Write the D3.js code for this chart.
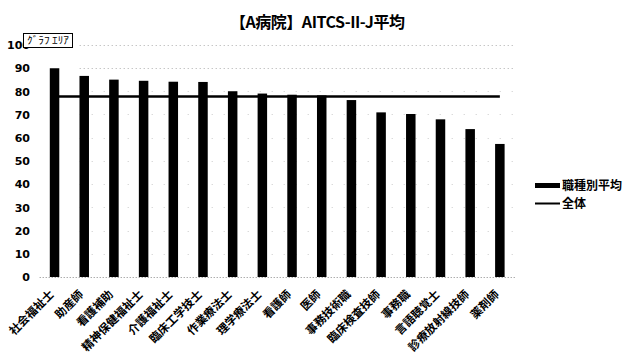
<!DOCTYPE html>
<html>
<head>
<meta charset="utf-8">
<script src="https://cdn.jsdelivr.net/npm/d3@7/dist/d3.min.js"></script>
<style>
  html, body { margin: 0; padding: 0; background: #fff; }
  svg { display: block; }
  text { font-family: "Noto Sans CJK JP", "Noto Sans", sans-serif; }
</style>
</head>
<body>
<div id="chart"></div>
<script>
// 職種別の AITCS-II-J 平均と全体平均
const categories = ["社会福祉士", "助産師", "看護補助", "精神保健福祉士", "介護福祉士", "臨床工学技士",
  "作業療法士", "理学療法士", "看護師", "医師", "事務技術職", "臨床検査技師", "事務職",
  "言語聴覚士", "診療放射線技師", "薬剤師"];
const jobAverages = [89.9, 86.6, 85.0, 84.5, 84.1, 84.0, 80.0, 79.0, 78.5, 78.2, 76.2, 70.9, 70.2, 67.9, 63.7, 57.3];
const overallAverage = 77.7;
const yTicks = [0, 10, 20, 30, 40, 50, 60, 70, 80, 90, 100];
const seriesNames = ["職種別平均", "全体"];
const chartTitle = "【A病院】AITCS-II-J平均";

const W = 623, H = 354;
const plot = { left: 39.7, right: 514.7, top: 44.8, bottom: 277 };

const svg = d3.select("#chart").append("svg")
  .attr("width", W).attr("height", H);

const x = d3.scaleBand()
  .domain(categories)
  .range([plot.left, plot.right])
  .paddingInner(0.68)
  .paddingOuter(0.34);

const y = d3.scaleLinear()
  .domain([0, 100])
  .range([plot.bottom, plot.top]);

// title
svg.append("text")
  .attr("x", 230).attr("y", 28)
  .attr("font-size", 16).attr("font-weight", "bold")
  .attr("textLength", 175).attr("lengthAdjust", "spacing")
  .text(chartTitle);

// sparse dotted gridlines
svg.append("g")
  .selectAll("line")
  .data(yTicks.filter(d => d > 0))
  .join("line")
  .attr("x1", plot.left + 40).attr("x2", plot.right)
  .attr("y1", d => Math.round(y(d)) + 0.5).attr("y2", d => Math.round(y(d)) + 0.5)
  .attr("stroke", "#9a9a9a")
  .attr("stroke-width", 1)
  .attr("stroke-dasharray", d => d >= 90 ? "1,3" : "1,11")
  .attr("opacity", d => d >= 90 ? 0.8 : 0.5);

// y axis labels
const yAxis = d3.axisLeft(y).tickValues(yTicks).tickSize(0).tickPadding(0);
const gy = svg.append("g")
  .attr("transform", `translate(30,0)`)
  .call(yAxis);
gy.select(".domain").remove();
gy.selectAll("text")
  .attr("font-size", 11).attr("font-weight", "bold")
  .attr("fill", "#000")
  .style("font-family", "'DejaVu Sans', sans-serif")
  .attr("dy", "0.35em");

// bars
svg.append("g")
  .selectAll("rect")
  .data(categories.map((c, i) => ({ c, v: jobAverages[i] })))
  .join("rect")
  .attr("x", d => x(d.c))
  .attr("y", d => y(d.v))
  .attr("width", x.bandwidth())
  .attr("height", d => y(0) - y(d.v))
  .attr("fill", "#000");

// baseline
svg.append("line")
  .attr("x1", plot.left).attr("x2", plot.right)
  .attr("y1", y(0) + 0.5).attr("y2", y(0) + 0.5)
  .attr("stroke", "#888").attr("stroke-dasharray", "1,2");

// overall average line
const line = d3.line()
  .x(d => x(d) + x.bandwidth() / 2)
  .y(() => y(overallAverage));
svg.append("path")
  .datum(categories)
  .attr("d", line)
  .attr("fill", "none")
  .attr("stroke", "#000")
  .attr("stroke-width", 2.5);

// x axis labels, rotated
const xAxis = d3.axisBottom(x).tickSize(0).tickPadding(0);
const gx = svg.append("g")
  .attr("transform", `translate(0,${plot.bottom})`)
  .call(xAxis);
gx.select(".domain").remove();
gx.selectAll("text")
  .attr("font-size", 11.5).attr("font-weight", "bold")
  .attr("fill", "#000")
  .attr("text-anchor", "end")
  .attr("dy", null)
  .attr("y", 0)
  .attr("transform", "translate(0,18) rotate(-45)");

// legend
const legend = svg.append("g").attr("transform", "translate(535,0)");
legend.append("rect")
  .attr("x", 0).attr("y", 183).attr("width", 25).attr("height", 5)
  .attr("fill", "#000");
legend.append("text")
  .attr("x", 27).attr("y", 185.5).attr("dy", "0.35em")
  .attr("font-size", 12).attr("font-weight", "bold")
  .text(seriesNames[0]);
legend.append("line")
  .attr("x1", 0).attr("x2", 25).attr("y1", 203.5).attr("y2", 203.5)
  .attr("stroke", "#000").attr("stroke-width", 2);
legend.append("text")
  .attr("x", 27).attr("y", 203.5).attr("dy", "0.35em")
  .attr("font-size", 12).attr("font-weight", "bold")
  .text(seriesNames[1]);

// chart-area hover tag
const tag = svg.append("g").attr("transform", "translate(23.5,33.5)");
tag.append("rect")
  .attr("width", 49).attr("height", 14)
  .attr("fill", "#fff").attr("stroke", "#000").attr("stroke-width", 1);
tag.append("text")
  .attr("x", 24.5).attr("y", 7).attr("dy", "0.35em")
  .attr("text-anchor", "middle")
  .attr("font-size", 10)
  .attr("textLength", 42).attr("lengthAdjust", "spacingAndGlyphs")
  .text("ｸﾞﾗﾌ ｴﾘｱ");
</script>
</body>
</html>
